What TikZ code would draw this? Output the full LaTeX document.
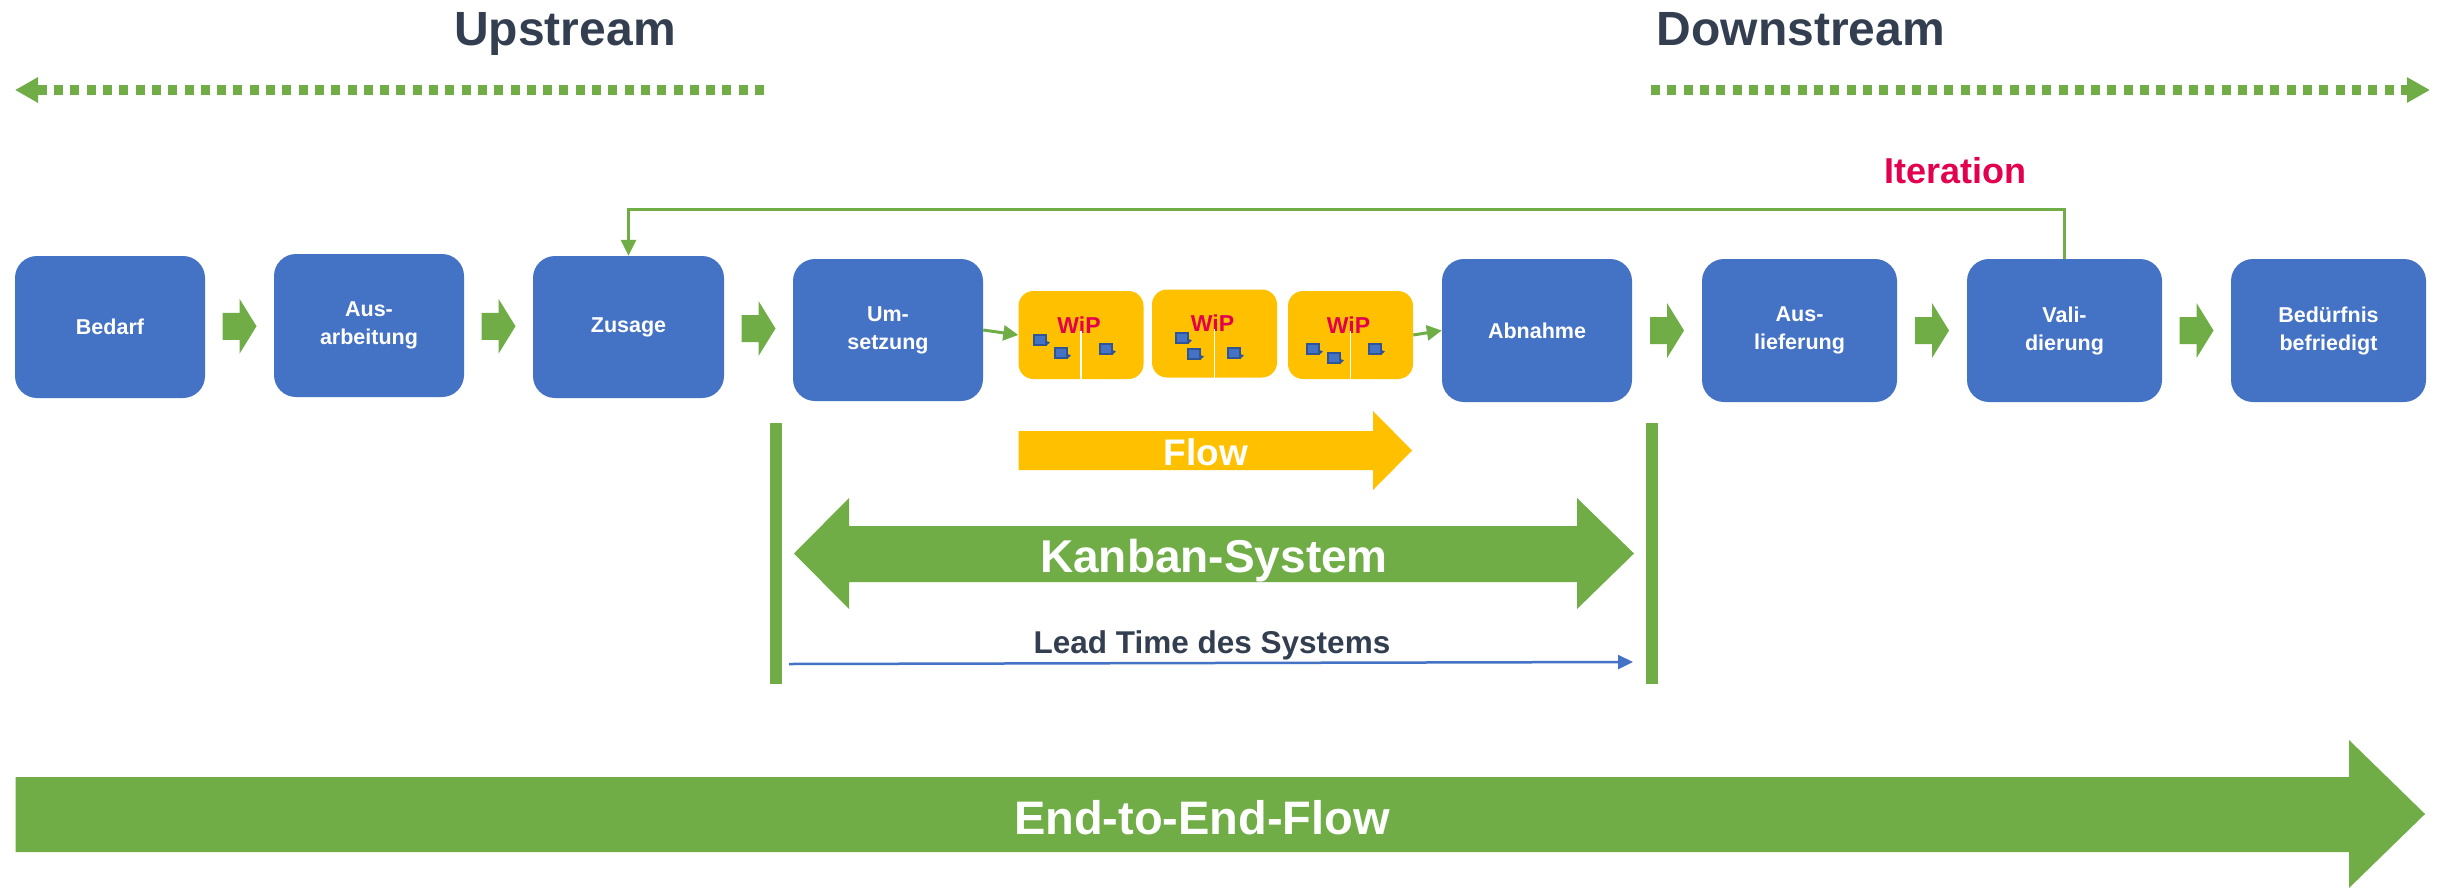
\documentclass[tikz,border=0pt]{standalone}
\usepackage{fontspec}
\setmainfont{Liberation Sans}
\usetikzlibrary{arrows.meta,calc}

\definecolor{boxblue}{HTML}{4472C4}
\definecolor{cardedge}{HTML}{2F5597}
\definecolor{kgreen}{HTML}{70AD47}
\definecolor{wipyellow}{HTML}{FFC000}
\definecolor{hotred}{HTML}{E2004F}
\definecolor{slate}{HTML}{333F50}

\tikzset{
  stage/.style={fill=boxblue, rounded corners=22pt, minimum width=190pt,
    minimum height=142pt, inner sep=0pt, text=white, align=center,
    font=\bfseries\fontsize{21.5}{28}\selectfont},
  wipbox/.style={fill=wipyellow, rounded corners=15pt, minimum width=125pt,
    minimum height=88pt, inner sep=0pt},
  wiplabel/.style={anchor=base, inner sep=0pt, text=hotred,
    font=\bfseries\fontsize{23}{27}\selectfont},
  headtext/.style={anchor=base, inner sep=0pt, text=slate,
    font=\bfseries\fontsize{48}{58}\selectfont},
  whitetext/.style={anchor=base, inner sep=0pt, text=white},
  dotarrow/.style={kgreen, line width=10pt, dash pattern=on 9pt off 7.3pt,
    -{Triangle[length=23pt,width=24pt]}},
  thinarrow/.style={kgreen, line width=3pt, -{Triangle[length=15pt,width=15pt]}},
  iterline/.style={kgreen, line width=2.7pt, -{Triangle[length=16pt,width=15pt]}},
  leadline/.style={boxblue, line width=2.5pt, -{Triangle[length=15pt,width=14pt]}},
  bar/.style={fill=kgreen, minimum width=11.5pt, minimum height=261pt, inner sep=0pt},
  chevron/.pic={
    \fill[kgreen] (-17,-13.5) -- (0,-13.5) -- (0,-27.5) -- (17,0)
      -- (0,27.5) -- (0,13.5) -- (-17,13.5) -- cycle;},
  card/.pic={
    \fill[cardedge] (0,0) rectangle (13.5,11.5);
    \fill[cardedge] (13.5,7) -- (17,8.5) -- (13.5,11.5) -- cycle;
    \fill[boxblue] (1.8,1.8) rectangle (11.7,9.7);}
}

\begin{document}
\begin{tikzpicture}[x=1pt,y=-1pt]
\useasboundingbox (0,0) rectangle (2443,889);
\fill[white] (0,0) rectangle (2443,889);

% headings and the dotted direction arrows
\node[headtext] (up) at (565,45) {Upstream};
\node[headtext] (down) at (1801,45) {Downstream};
\coordinate (upS) at (764,90);
\coordinate (upE) at (15,90);
\coordinate (downS) at (1651,90);
\coordinate (downE) at (2430,90);
\draw[dotarrow] (upS) -- (upE);
\draw[dotarrow] (downS) -- (downE);

% process stages
\node[stage, minimum height=142pt] (bedarf) at (110,327) {Bedarf};
\node[stage, minimum height=143pt] (ausarb) at (369,325.5) {Aus-\\arbeitung};
\node[stage, minimum width=191pt] (zusage) at (628.5,327) {Zusage};
\node[stage] (umsetz) at (888,330) {Um-\\setzung};
\node[stage, minimum height=143pt] (abnahme) at (1537,330.5) {Abnahme};
\node[stage, minimum width=195pt, minimum height=143pt] (ausl) at (1799.5,330.5) {Aus-\\lieferung};
\node[stage, minimum width=195pt, minimum height=143pt] (valid) at (2064.5,330.5) {Vali-\\dierung};
\node[stage, minimum width=195pt, minimum height=143pt] (befr) at (2328.5,330.5) {Bedürfnis\\befriedigt};

% block arrows between stages
\pic at ($(bedarf.east)!0.5!(ausarb.west)$) {chevron};
\pic at ($(ausarb.east)!0.5!(zusage.west)$) {chevron};
\pic at ($(zusage.east)!0.5!(umsetz.west)$) {chevron};
\pic at ($(abnahme.east)!0.5!(ausl.west)$) {chevron};
\pic at ($(ausl.east)!0.5!(valid.west)$) {chevron};
\pic at ($(valid.east)!0.5!(befr.west)$) {chevron};

% work-in-progress columns
\node[wipbox] (w1) at (1081,335) {};
\node[wipbox] (w2) at (1214.5,333.5) {};
\node[wipbox] (w3) at (1350.5,335) {};
\foreach \w in {w1,w2,w3}{
  \node[wiplabel] (\w lbl) at ($(\w.center)+(-2,-1.7)$) {WiP};
  \draw[white, line width=1.5pt] ($(\w.center)+(0,-4.5)$) -- (\w.south);
}
\pic at ($(w1.center)+(-48,-1)$) {card};
\pic at ($(w1.center)+(-27,12)$) {card};
\pic at ($(w1.center)+(18,8)$) {card};
\pic at ($(w2.center)+(-39.5,-1.5)$) {card};
\pic at ($(w2.center)+(-27.5,14.5)$) {card};
\pic at ($(w2.center)+(12.5,13.5)$) {card};
\pic at ($(w3.center)+(-44.5,8)$) {card};
\pic at ($(w3.center)+(-23.5,17)$) {card};
\pic at ($(w3.center)+(17.5,8)$) {card};

\draw[thinarrow] (umsetz.east) -- (w1.west);
\draw[thinarrow] (w3.east) -- (abnahme.west);

% iteration loop back to Zusage
\node[anchor=base, inner sep=0pt, text=hotred,
  font=\bfseries\fontsize{36}{43}\selectfont] (iter) at (1955,183) {Iteration};
\draw[iterline] (valid.north) |- ($(zusage.north)+(0,-46)$) -- (zusage.north);

% flow arrow
\fill[wipyellow] (1018.5,431) -- (1373,431) -- (1373,411) -- (1412,450.5)
  -- (1373,490) -- (1373,470) -- (1018.5,470) -- cycle;
\node[whitetext, font=\bfseries\fontsize{37}{44}\selectfont] (flow) at (1206,465) {Flow};

% system boundaries
\node[bar] (barL) at (776,553.5) {};
\node[bar] (barR) at (1652,553.5) {};

% Kanban system double arrow
\fill[kgreen] (794,553.5) -- (849,498) -- (849,526) -- (1577,526) -- (1577,498)
  -- (1634,553.5) -- (1577,609) -- (1577,582) -- (849,582) -- (849,609) -- cycle;
\node[whitetext, font=\bfseries\fontsize{46}{55}\selectfont] (kanban) at (1214,572) {Kanban-System};

% lead time
\node[anchor=base, inner sep=0pt, text=slate,
  font=\bfseries\fontsize{31.5}{38}\selectfont] (lead) at (1212,653) {Lead Time des Systems};
\coordinate (leadL) at (789,664);
\coordinate (leadR) at (1633,662);
\draw[leadline] (leadL) -- (leadR);

% end-to-end flow
\fill[kgreen] (15.5,777) -- (2349,777) -- (2349,740) -- (2425,814)
  -- (2349,888) -- (2349,852) -- (15.5,852) -- cycle;
\node[whitetext, font=\bfseries\fontsize{47}{56}\selectfont] (e2e) at (1202,834) {End-to-End-Flow};
\end{tikzpicture}
\end{document}
